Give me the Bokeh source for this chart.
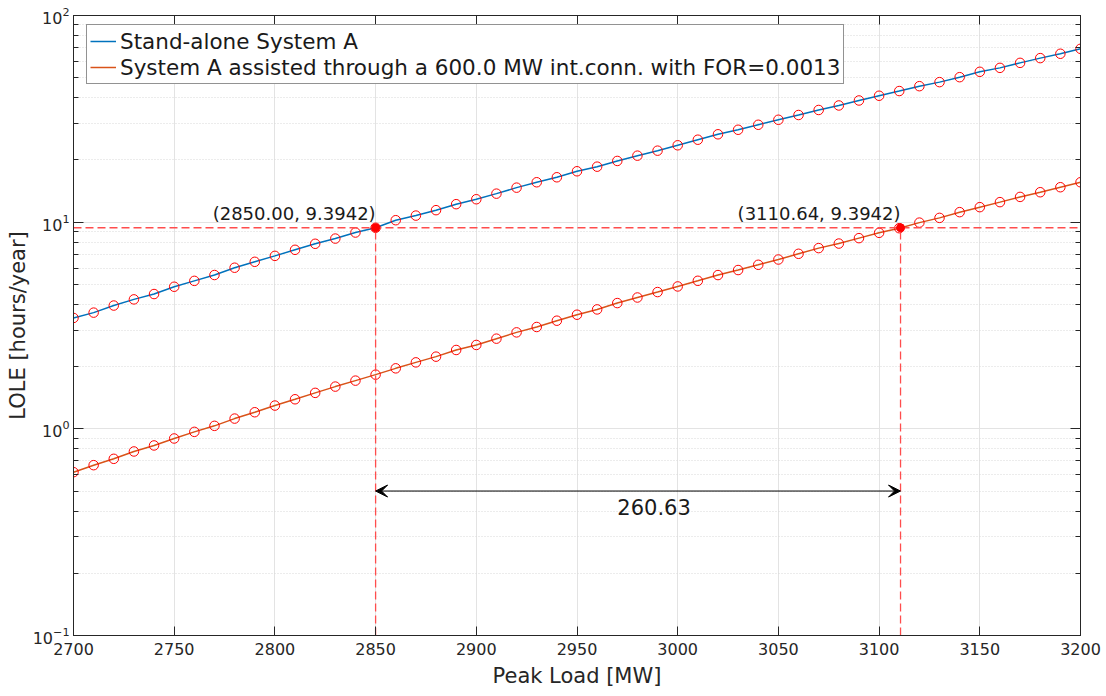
from bokeh.plotting import figure
from bokeh.models import (Range1d, LogAxis, LinearAxis, FixedTicker, Legend, LegendItem,
                          Arrow, VeeHead, Label, CustomJSTickFormatter)
from bokeh.embed import file_html
from bokeh.resources import INLINE

# ---------------- data ----------------
peak_load = [2700, 2710, 2720, 2730, 2740, 2750, 2760, 2770, 2780, 2790,
             2800, 2810, 2820, 2830, 2840, 2850, 2860, 2870, 2880, 2890,
             2900, 2910, 2920, 2930, 2940, 2950, 2960, 2970, 2980, 2990,
             3000, 3010, 3020, 3030, 3040, 3050, 3060, 3070, 3080, 3090,
             3100, 3110, 3120, 3130, 3140, 3150, 3160, 3170, 3180, 3190, 3200]

lole_standalone = [3.44, 3.65, 3.95, 4.23, 4.49, 4.87, 5.20, 5.55, 6.02, 6.43,
                   6.87, 7.35, 7.86, 8.33, 8.91, 9.3942, 10.22, 10.76, 11.43, 12.22,
                   12.91, 13.74, 14.69, 15.60, 16.49, 17.63, 18.56, 19.78, 20.98, 22.18,
                   23.55, 25.06, 26.62, 28.00, 29.60, 31.30, 33.00, 34.90, 36.70, 38.80,
                   40.90, 43.10, 45.50, 47.60, 50.30, 53.40, 55.80, 59.00, 62.20, 65.30, 69.00]

lole_assisted = [0.617, 0.667, 0.716, 0.777, 0.831, 0.898, 0.967, 1.034, 1.121, 1.203,
                 1.296, 1.390, 1.493, 1.601, 1.711, 1.829, 1.962, 2.097, 2.235, 2.407,
                 2.546, 2.731, 2.929, 3.110, 3.336, 3.566, 3.783, 4.060, 4.320, 4.590,
                 4.886, 5.204, 5.546, 5.866, 6.220, 6.597, 7.030, 7.490, 7.880, 8.370,
                 8.880, 9.350, 9.950, 10.49, 11.18, 11.82, 12.50, 13.25, 13.96, 14.76, 15.60]

lole_target = 9.3942
load_standalone_at_target = 2850.00
load_assisted_at_target = 3110.64
capacity_benefit = 260.63
arrow_level = 0.5

x_ticks = [2700, 2750, 2800, 2850, 2900, 2950, 3000, 3050, 3100, 3150, 3200]
y_ticks = [0.1, 1, 10, 100]
y_minor = [m * d for d in (0.1, 1, 10) for m in (2, 3, 4, 5, 6, 7, 8, 9)]

label_standalone = "Stand-alone System A"
label_assisted = "System A assisted through a 600.0 MW int.conn. with FOR=0.0013"

# ---------------- figure ----------------
FONT = "DejaVu Sans"
AX = "#262626"

p = figure(frame_width=1007, frame_height=620,
           x_range=Range1d(2700, 3200), y_range=Range1d(0.1, 100),
           y_axis_type="log", output_backend="svg", toolbar_location=None,
           min_border_left=73, min_border_right=26, min_border_top=15, min_border_bottom=61)
p.outline_line_color = AX
p.outline_line_width = 1
p.background_fill_color = "white"
p.border_fill_color = "white"

xt = FixedTicker(ticks=x_ticks)
yt = FixedTicker(ticks=y_ticks, minor_ticks=y_minor)
for ax in p.xaxis:
    ax.ticker = xt
for ax in p.yaxis:
    ax.ticker = yt


def style_axis(ax, tick_in, minor_in):
    ax.axis_line_color = AX
    ax.major_tick_line_color = AX
    ax.major_tick_in = tick_in
    ax.major_tick_out = 0
    if minor_in:
        ax.minor_tick_line_color = AX
        ax.minor_tick_in = minor_in
        ax.minor_tick_out = 0
    else:
        ax.minor_tick_line_color = None
    ax.major_label_text_font = FONT
    ax.major_label_text_color = AX
    ax.major_label_text_font_size = "16px"
    ax.axis_label_text_font = FONT
    ax.axis_label_text_font_style = "normal"
    ax.axis_label_text_color = AX
    ax.axis_label_text_font_size = "21px"


for ax in p.xaxis:
    style_axis(ax, 9, 0)
    ax.axis_label = "Peak Load [MW]"
    ax.major_label_standoff = 7
    ax.axis_label_standoff = 6
for ax in p.yaxis:
    style_axis(ax, 10, 5)
    ax.axis_label = "LOLE [hours/year]"
    ax.major_label_standoff = 4
    ax.axis_label_standoff = 0

blank = CustomJSTickFormatter(code="return ''")
top = LinearAxis(ticker=xt, formatter=blank)
style_axis(top, 9, 0)
top.major_label_standoff = 0
p.add_layout(top, "above")

right = LogAxis(ticker=yt, formatter=blank)
style_axis(right, 10, 5)
right.major_label_standoff = 0
p.add_layout(right, "right")

# grids
p.xgrid.grid_line_color = "#e3e3e3"
p.xgrid.grid_line_width = 1
p.ygrid.grid_line_color = "#e3e3e3"
p.ygrid.grid_line_width = 1
p.ygrid.minor_grid_line_color = "#d9d9d9"
p.ygrid.minor_grid_line_dash = "1 2"
p.ygrid.minor_grid_line_width = 1

# curves
r1 = p.line(peak_load, lole_standalone, line_color="#0072BD", line_width=1.5)
r2 = p.line(peak_load, lole_assisted, line_color="#D95319", line_width=1.5)
p.scatter(peak_load, lole_standalone, marker="circle", size=9.5, fill_color=None,
          line_color="#ff0000", line_width=1)
p.scatter(peak_load, lole_assisted, marker="circle", size=9.5, fill_color=None,
          line_color="#ff0000", line_width=1)

# reference dashed lines
dash_col = "#ff4d4d"
p.line([2700, 3200], [lole_target, lole_target], line_color=dash_col,
       line_width=1.6, line_dash="8 4")
p.line([load_standalone_at_target, load_standalone_at_target], [0.1, lole_target],
       line_color=dash_col, line_width=1.3, line_dash="8 4")
p.line([load_assisted_at_target, load_assisted_at_target], [0.1, lole_target],
       line_color=dash_col, line_width=1.3, line_dash="8 4")
p.scatter([load_standalone_at_target, load_assisted_at_target], [lole_target, lole_target],
          marker="circle", size=8, fill_color="#ff0000", line_color="#ff0000")

# point labels
for xv in (load_standalone_at_target, load_assisted_at_target):
    p.add_layout(Label(x=xv, y=lole_target, text=f"({xv:.2f}, {lole_target:.4f})",
                       text_align="right", text_baseline="bottom", y_offset=4,
                       text_font=FONT, text_font_size="18px", text_color="#1a1a1a"))

# double arrow
head = dict(size=12, fill_color="black", line_color="black", line_width=1)
p.add_layout(Arrow(start=VeeHead(**head), end=VeeHead(**head),
                   x_start=load_standalone_at_target, y_start=arrow_level,
                   x_end=load_assisted_at_target, y_end=arrow_level,
                   line_color="black", line_width=1))
p.add_layout(Label(x=(load_standalone_at_target + load_assisted_at_target) / 2, y=arrow_level,
                   text=f"{capacity_benefit:.2f}", text_align="center", text_baseline="top",
                   x_offset=16, y_offset=-8,
                   text_font=FONT, text_font_size="21px", text_color="#1a1a1a"))

# legend
legend = Legend(items=[LegendItem(label=label_standalone, renderers=[r1]),
                       LegendItem(label=label_assisted, renderers=[r2])],
                location=(13, 551), padding=3, spacing=0, label_standoff=4,
                glyph_width=26, glyph_height=26, label_height=26,
                label_text_font=FONT, label_text_font_size="21.5px", label_text_color="#1a1a1a",
                border_line_color=AX, border_line_width=1, background_fill_alpha=1,
                margin=0)
p.add_layout(legend, "center")

open("out.html", "w").write(file_html(p, INLINE))
